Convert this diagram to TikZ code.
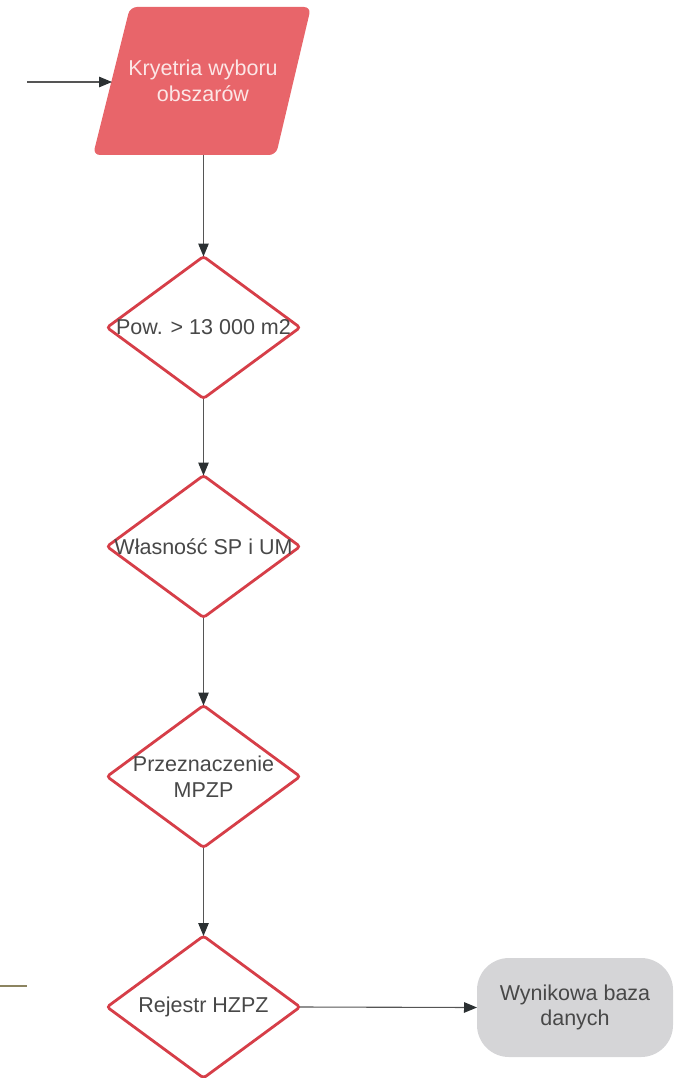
\documentclass[tikz,border=0pt]{standalone}
\usepackage{fontspec}
\setmainfont{Liberation Sans}
\usetikzlibrary{shapes.geometric,arrows.meta}

\definecolor{critfill}{HTML}{E8656A}
\definecolor{crittext}{HTML}{FCE6E6}
\definecolor{decline}{HTML}{D63E48}
\definecolor{labeltext}{HTML}{484848}
\definecolor{flowline}{HTML}{555555}
\definecolor{tipcol}{HTML}{2B3032}
\definecolor{resultfill}{HTML}{D5D5D7}
\definecolor{olive}{HTML}{8C8460}

\tikzset{
  label font/.style={font=\fontsize{21.5}{25.5}\selectfont},
  decision/.style={diamond, draw=decline, line width=2.8pt, fill=white,
    minimum width=193pt, minimum height=142pt, inner sep=0pt, outer sep=0pt,
    rounded corners=3pt},
  decision text/.style={label font, text=labeltext, align=center, inner sep=0pt},
  flow/.style={draw=flowline, line width=1.1pt,
    -{Triangle[length=13pt,width=10.5pt,color=tipcol,fill=tipcol]}},
  result/.style={rectangle, rounded corners=32pt, fill=resultfill,
    minimum width=196pt, minimum height=99pt, inner sep=0pt, outer sep=0pt},
}

\begin{document}
\begin{tikzpicture}[x=1pt,y=-1pt]
  \useasboundingbox (0,0) rectangle (682,1078);
  \clip (0,0) rectangle (682,1078);

  % input parallelogram for the selection criteria
  \fill[critfill, rounded corners=7pt]
    (130,7) -- (311,7) -- (276,155) -- (93,155) -- cycle;
  \node[label font, text=crittext, align=center, inner sep=0pt] (crit) at (203,81)
    {Kryetria wyboru\\obszarów};
  \coordinate (crit-in) at (112,82);
  \coordinate (crit-out) at (203.5,155);
  \coordinate (src) at (27,82);

  % decision diamonds
  \node[decision] (d1) at (203.5,327.5) {};
  \node[decision text] (t1) at (d1.center) {Pow. > 13 000 m2};
  \node[decision] (d2) at (203.5,546.5) {};
  \node[decision text] (t2) at (d2.center) {Własność SP i UM};
  \node[decision] (d3) at (203.5,776.5) {};
  \node[decision text] (t3) at (d3.center) {Przeznaczenie\\MPZP};
  \node[decision] (d4) at (203.5,1007) {};
  \node[decision text] (t4) at (d4.center) {Rejestr HZPZ};

  % resulting database
  \node[result] (res) at (575,1007.5) {};
  \node[decision text] (rest) at (res.center) {Wynikowa baza\\danych};

  % connectors
  \draw[flow] (src) -- (crit-in);
  \draw[flow] (crit-out) -- (d1.north);
  \draw[flow] (d1.south) -- (d2.north);
  \draw[flow] (d2.south) -- (d3.north);
  \draw[flow] (d3.south) -- (d4.north);
  \draw[flow] (d4.east) -- (res.west);

  % stray line at the left edge
  \coordinate (ol-a) at (0,986);
  \coordinate (ol-b) at (27,986);
  \draw[olive, line width=1.6pt] (ol-a) -- (ol-b);
\end{tikzpicture}
\end{document}
